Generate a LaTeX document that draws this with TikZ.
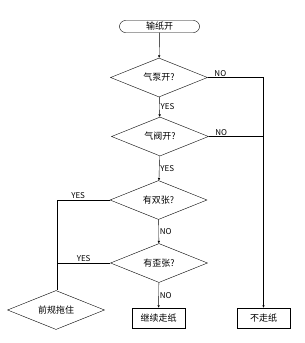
\documentclass[tikz,border=0pt]{standalone}
\usepackage{fontspec}
\setmainfont{Noto Sans CJK SC}
\usetikzlibrary{arrows.meta, positioning, shapes.geometric}
\tikzset{
    >={Latex[length=2.5pt,width=2.5pt]}, % small heads, like dots
    decision/.style={diamond, draw, thin, aspect=2.5, inner sep=0pt, minimum width=97pt, minimum height=39pt},
    process/.style={rectangle, draw, thin, minimum width=53pt, minimum height=20pt, inner sep=0pt},
    terminal/.style={rectangle, draw, thin, rounded corners=6pt, minimum width=80pt, minimum height=12pt, inner sep=0pt},
    tag/.style={font=\fontsize{8}{9}\selectfont, inner sep=1pt}
}

\begin{document}
\begin{tikzpicture}[x=1pt,y=-1pt,every node/.style={font=\fontsize{9}{10}\selectfont}]
    \useasboundingbox (0,0) rectangle (305,343);

    \node[terminal] (start) at (159.5,26.5) {输纸开};
    \node[decision] (pump) at (159,77.5) {气泵开?};
    \node[decision] (valve) at (160,136.5) {气阀开?};
    \node[decision] (double) at (158.5,200) {有双张?};
    \node[decision] (skew) at (159,263) {有歪张?};
    \node[decision] (hold) at (56,310) {前规拖住};
    \node[process] (feed) at (158.5,318) {继续走纸};
    \node[process] (nofeed) at (263.5,318) {不走纸};

    \draw[->] (start) -- (pump);
    \draw[->] (pump) -- node[tag, right] {YES} (valve);
    \draw[->] (valve) -- node[tag, right] {YES} (double);
    \draw[->] (double) -- node[tag, right] {NO} (skew);
    \draw[->] (skew) -- node[tag, right] {NO} (feed);

    \draw[->] (pump.east) -| node[tag, above right, pos=0.05] {NO} (nofeed.north);
    \coordinate (jvalve) at (nofeed.north |- valve.east);
    \draw (valve.east) -- node[tag, above right, pos=0.1] {NO} (jvalve);

    \coordinate (jskew) at (57,263);
    \draw (double.west) -| node[tag, above, pos=0.3] {YES} (hold.north -| jskew);
    \draw (skew.west) -- node[tag, above] {YES} (jskew);
\end{tikzpicture}
\end{document}
